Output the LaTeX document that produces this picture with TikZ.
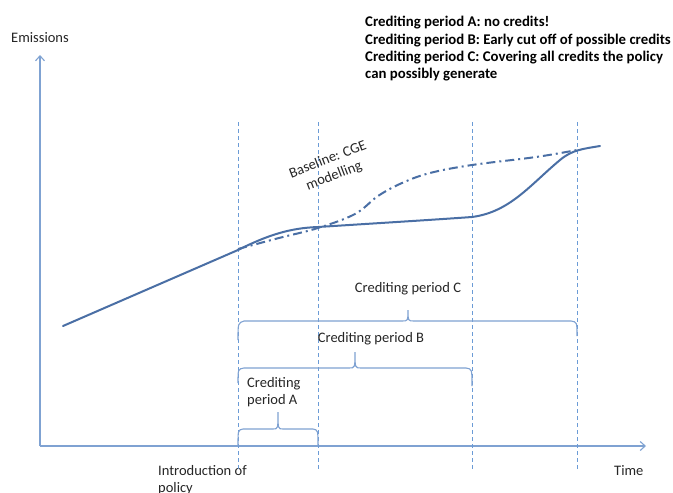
\documentclass[tikz,border=0pt]{standalone}
\usepackage{fontspec}
\setmainfont{Carlito}
\usetikzlibrary{arrows.meta}
\definecolor{axisblue}{HTML}{7FA2D2}
\definecolor{curveblue}{HTML}{4A6FA5}
\definecolor{guideblue}{HTML}{6B9BD6}
\definecolor{txt}{HTML}{262626}
\begin{document}
\begin{tikzpicture}[x=1pt,y=-1pt,
  every node/.style={text=txt, inner sep=0pt},
  lbl/.style={font=\fontsize{14.5}{17.3}\selectfont},
  axisline/.style={draw=axisblue, line width=1.1pt, -{Straight Barb[length=5pt,width=9pt]}},
  guide/.style={draw=guideblue, line width=0.8pt, dash pattern=on 4pt off 3pt},
  policy/.style={draw=curveblue, line width=2pt, line cap=round},
  baseline/.style={draw=curveblue, line width=2pt, dash pattern=on 9pt off 4pt on 2pt off 4pt},
  bracestyle/.style={draw=axisblue, line width=1.1pt}]
\useasboundingbox (0,0) rectangle (673,493);
\fill[white] (0,0) rectangle (673,493);
% axes
\coordinate (O) at (40,446);
\coordinate (ytop) at (40,55);
\coordinate (xend) at (646,446);
\draw[axisline] (O) -- (ytop);
\draw[axisline] (O) -- (xend);
\node[lbl, anchor=west] (ylab) at (11,38) {Emissions};
\node[lbl, anchor=west] (time) at (614,471) {Time};
\node[lbl, anchor=north west, align=left] (intro) at (158,465) {Introduction of\\policy};
% vertical guides
\foreach \n/\x in {a/238,b/318,c/472,d/577}{
  \coordinate (top\n) at (\x,122);
  \coordinate (bot\n) at (\x,470);
  \draw[guide] (top\n) -- (bot\n);
}
% legend
\node[anchor=north west, align=left, text=black, font=\bfseries\fontsize{14.8}{17.4}\selectfont] (legend) at (365,16)
  {Crediting period A: no credits!\\Crediting period B: Early cut off of possible credits\\Crediting period C: Covering all credits the policy\\can possibly generate};
% curves
\coordinate (p0) at (63,326);
\coordinate (p1) at (238,250);
\coordinate (p2) at (318,227);
\coordinate (p3) at (472,217);
\coordinate (p4) at (600,146);
\draw[policy] (p0) -- (p1) .. controls (268,235) and (290,228) .. (p2)
  .. controls (380,223) and (430,220) .. (p3)
  .. controls (510,212) and (530,185) .. (560,160)
  .. controls (572,150) and (582,149) .. (p4);
\draw[baseline] plot[smooth, tension=0.6] coordinates {(238,249) (279,238) (318,228) (355,214) (378,196) (402,183) (430,173) (472,165) (536,157) (577,150)};
\node[lbl, rotate=21, align=center] (base) at (331,168) {Baseline: CGE\\modelling};
% braces
\draw[bracestyle] (238,340) .. controls (238,323) .. (244,321) -- (402,321) .. controls (408,321) .. (408,310)
  .. controls (408,321) .. (414,321) -- (571,321) .. controls (577,322) .. (577,336);
\node[lbl] (labC) at (408,289) {Crediting period C};
\draw[bracestyle] (238,383) .. controls (238,369) .. (244,368) -- (349,368) .. controls (355,368) .. (355,352)
  .. controls (355,368) .. (361,368) -- (466,368) .. controls (472,369) .. (472,386);
\node[lbl] (labB) at (371,339) {Crediting period B};
\draw[bracestyle] (238,446) .. controls (238,430) .. (243,429) -- (273,429) .. controls (278,429) .. (278,412)
  .. controls (278,429) .. (283,429) -- (313,429) .. controls (318,430) .. (318,446);
\node[lbl, anchor=north west, align=left] (labA) at (247,377) {Crediting\\period A};
\end{tikzpicture}
\end{document}
